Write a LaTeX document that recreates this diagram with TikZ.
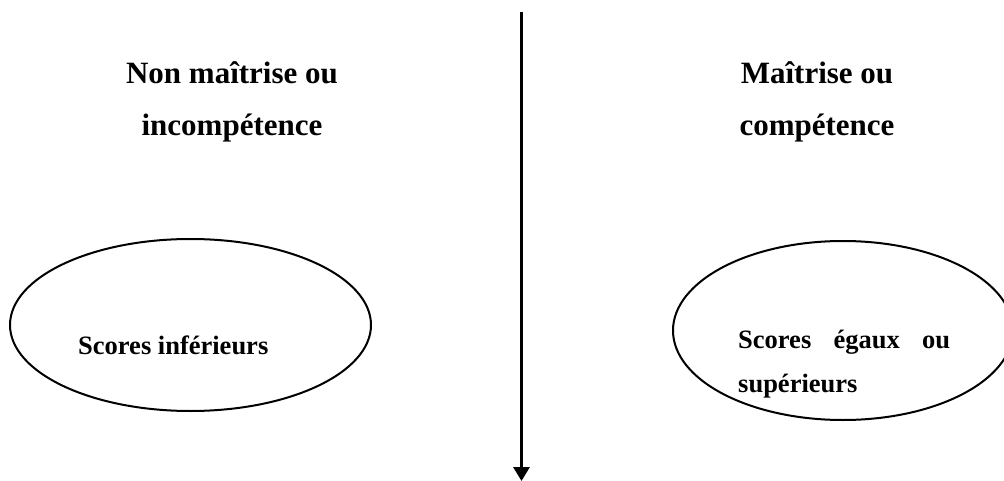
\documentclass[tikz,border=0pt]{standalone}
\usepackage{fontspec}
\setmainfont{Liberation Serif}
\usetikzlibrary{arrows.meta}
\tikzset{
  title/.style={font=\bfseries\fontsize{31}{52}\selectfont, align=center, inner sep=0pt},
  body/.style={font=\bfseries\fontsize{26.5}{44}\selectfont, align=left, inner sep=0pt},
  oval/.style={draw=black, line width=2pt},
  axis/.style={line width=3pt, -{Triangle[width=16pt,length=14pt]}}
}
\begin{document}
\begin{tikzpicture}[x=1pt,y=-1pt]
\clip (0,0) rectangle (1004,481);
\useasboundingbox (0,0) rectangle (1004,481);
\coordinate (top) at (521.5,12);
\coordinate (bot) at (521.5,481);
\draw[axis] (top) -- (bot);
\node[title, anchor=base] (t1) at (232,136) {Non maîtrise ou\\incompétence};
\node[title, anchor=base] (t2) at (817,136) {Maîtrise ou\\compétence};
\draw[oval] (190.5,325) ellipse [x radius=180.5, y radius=86];
\draw[oval] (843,330.5) ellipse [x radius=170, y radius=89.5];
\node[body, anchor=base west] (s1) at (78,354) {Scores inférieurs};
\node[body, anchor=base west] (s2) at (738,392) {\hbox to 212pt{Scores\hfil égaux\hfil ou}\\supérieurs};
\end{tikzpicture}
\end{document}
